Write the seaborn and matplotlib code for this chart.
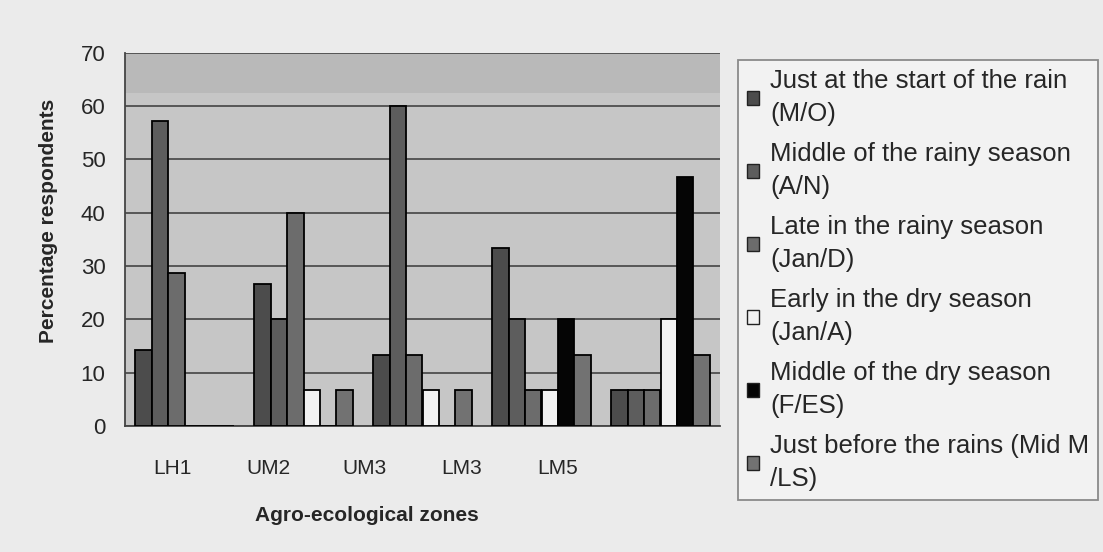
import matplotlib
matplotlib.use("Agg")
import matplotlib.pyplot as plt
import seaborn as sns
import pandas as pd
import numpy as np

zones = ["LH1", "UM2", "UM3", "LM3", "LM5"]
series = [
    "Just at the start of the rain\n(M/O)",
    "Middle of the rainy season\n(A/N)",
    "Late in the rainy season\n(Jan/D)",
    "Early in the dry season\n(Jan/A)",
    "Middle of the dry season\n(F/ES)",
    "Just before the rains (Mid M\n/LS)",
]
start_rain = [14.3, 26.7, 13.3, 33.3, 6.7]
mid_rainy = [57.1, 20.0, 60.0, 20.0, 6.7]
late_rainy = [28.6, 40.0, 13.3, 6.7, 6.7]
early_dry = [0.0, 6.7, 6.7, 6.7, 20.0]
mid_dry = [0.0, 0.0, 0.0, 20.0, 46.7]
before_rains = [0.0, 6.7, 6.7, 13.3, 13.3]
yticks = [0, 10, 20, 30, 40, 50, 60, 70]

values = [start_rain, mid_rainy, late_rainy, early_dry, mid_dry, before_rains]
rows = []
for s, vals in zip(series, values):
    for z, v in zip(zones, vals):
        rows.append({"zone": z, "series": s, "value": v})
df = pd.DataFrame(rows)

colors = ["#4c4c4c", "#5d5d5d", "#6c6c6c", "#f2f2f2", "#050505", "#727272"]

sns.set_style("white")
plt.rcParams["font.family"] = ["Liberation Sans", "DejaVu Sans"]

fig = plt.figure(figsize=(11.03, 5.52), dpi=100, facecolor="#ebebeb")
ax = fig.add_axes([125 / 1103, 1 - 426 / 552, (720 - 125) / 1103, (426 - 52.7) / 552])
ax.set_facecolor("#c6c6c6")

sns.barplot(data=df, x="zone", y="value", hue="series", hue_order=series,
            palette=colors, width=0.83, gap=0, edgecolor="black", linewidth=1.3,
            ax=ax, legend=True, zorder=3)

ax.set_ylim(0, 70)
ax.set_xlim(-0.5, 4.5)
ax.axhspan(62.5, 70, color="#b9b9b9", zorder=0, lw=0)
ax.set_yticks(yticks)
ax.set_yticklabels([str(t) for t in yticks], fontsize=16)
ax.yaxis.grid(True, color="#444444", linewidth=1.2, zorder=1)
ax.set_axisbelow(True)
ax.tick_params(axis="y", direction="out", length=8, width=1, color="#444444", pad=6)

# category labels as laid out in the reference
ax.set_xticks([-0.105 + 0.81 * i for i in range(len(zones))])
ax.set_xticklabels(zones, fontsize=15)
ax.tick_params(axis="x", length=0, pad=24)

for side in ["top", "right"]:
    ax.spines[side].set_visible(False)
ax.spines["left"].set_color("#444444")
ax.spines["left"].set_linewidth(1.3)
ax.spines["bottom"].set_color("#444444")
ax.spines["bottom"].set_linewidth(1.3)

ax.set_xlabel("Agro-ecological zones", fontsize=15, fontweight="bold")
ax.xaxis.set_label_coords((367 - 125) / 595, -0.215)
ax.set_ylabel("Percentage respondents", fontsize=15, fontweight="bold")
ax.yaxis.set_label_coords(-0.113, 0.55)

handles, labels = ax.get_legend_handles_labels()
ax.get_legend().remove()
leg = fig.legend(handles, labels, loc="upper left",
                 bbox_to_anchor=(738 / 1103, 1 - 60 / 552), bbox_transform=fig.transFigure,
                 fontsize=18.5, frameon=True, fancybox=False, edgecolor="#8a8a8a",
                 facecolor="#f2f2f2", framealpha=1, handlelength=0.45, handleheight=0.45,
                 handletextpad=0.45, labelspacing=0.6, borderpad=0.35, borderaxespad=0)
leg.get_frame().set_linewidth(1.3)
for t in leg.get_texts():
    t.set_linespacing(1.5)
for h in leg.legend_handles:
    h.set_linewidth(1.0)
    h.set_edgecolor("#222222")

fig.savefig("out.png", dpi=100, facecolor=fig.get_facecolor())
